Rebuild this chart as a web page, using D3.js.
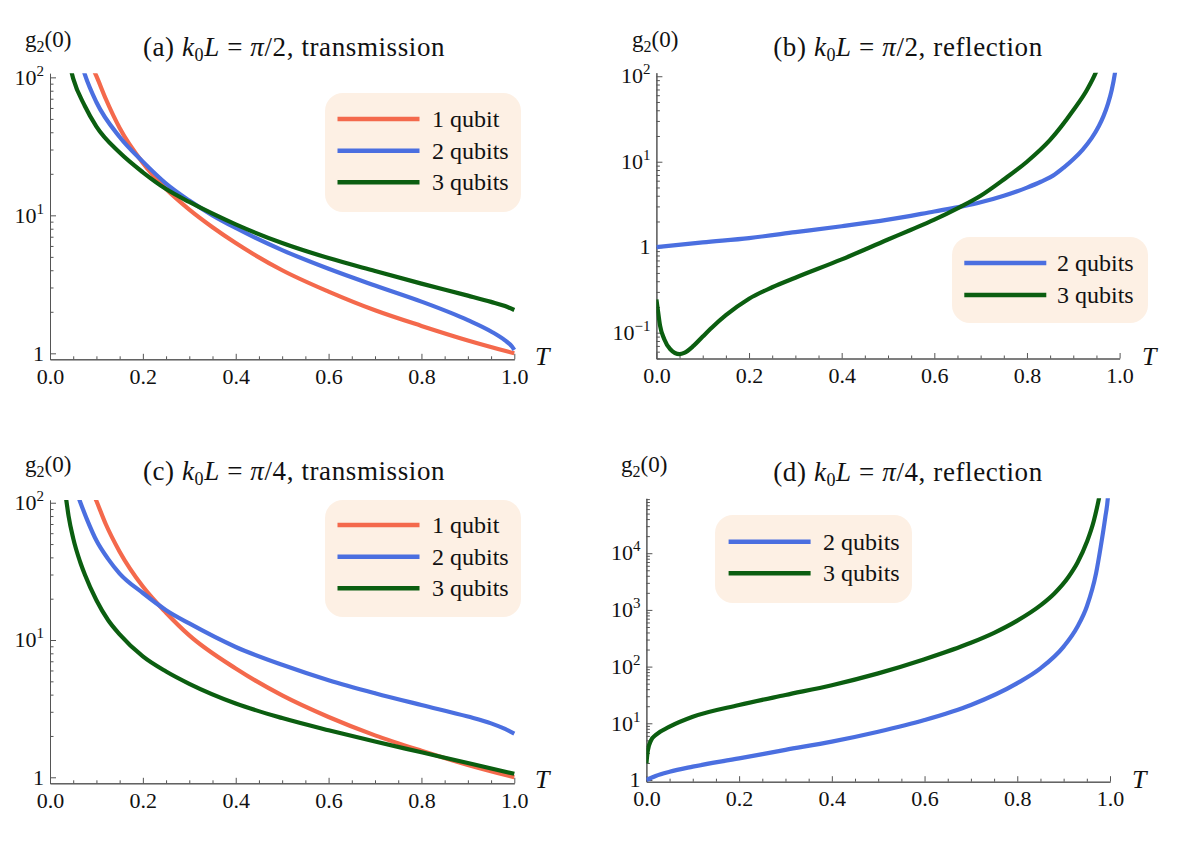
<!DOCTYPE html>
<html><head><meta charset="utf-8">
<script src="https://cdn.jsdelivr.net/npm/d3@7"></script>
<style>
body{margin:0;background:#fff}
svg{display:block}
text{font-family:"Liberation Serif","Times New Roman",serif;fill:#111;white-space:pre}
</style>
</head><body>
<svg id="chart" width="1200" height="847"></svg>
<script>
// ---------- data ----------
const seriesNames = ["1 qubit", "2 qubits", "3 qubits"];
const seriesColors = ["#f4694c", "#4b6fe0", "#0b5e10"];
const xTicks = [0, 0.2, 0.4, 0.6, 0.8, 1.0];
const xMinorTicks = [0.05,0.1,0.15,0.25,0.3,0.35,0.45,0.5,0.55,0.65,0.7,0.75,0.85,0.9,0.95];

// (a) k0L = pi/2, transmission  -- [T, g2(0)]
const a1 = [[0.088,125],[0.1,102],[0.12,70],[0.15,43],[0.2,24],[0.25,15.5],[0.3,11],[0.35,8.2],[0.4,6.3],[0.5,4.0],[0.6,2.8],[0.7,2.05],[0.8,1.58],[0.9,1.24],[1.0,1.0]];
const a2 = [[0.068,125],[0.075,105],[0.1,66],[0.15,37],[0.2,24.5],[0.25,17],[0.3,12.8],[0.35,10],[0.4,8.1],[0.5,5.6],[0.6,4.1],[0.7,3.1],[0.8,2.37],[0.9,1.74],[0.95,1.44],[0.98,1.24],[0.995,1.12],[1.0,1.06]];
const a3 = [[0.042,125],[0.05,98],[0.075,62],[0.1,44],[0.15,28.5],[0.2,20.5],[0.25,15.5],[0.3,12.5],[0.4,8.6],[0.5,6.3],[0.6,4.9],[0.7,3.95],[0.8,3.2],[0.9,2.62],[0.95,2.36],[0.98,2.2],[1.0,2.06]];

// (b) k0L = pi/2, reflection
const b2 = [[0,1.0],[0.1,1.14],[0.2,1.28],[0.3,1.5],[0.4,1.76],[0.5,2.1],[0.6,2.62],[0.66,3.0],[0.7,3.35],[0.75,4.0],[0.8,4.98],[0.83,5.83],[0.86,7.08],[0.88,8.6],[0.9,10.7],[0.92,13.8],[0.94,19],[0.955,26],[0.965,33.9],[0.975,47.9],[0.983,69],[0.99,109],[0.995,172]];
const b3 = [[0,0.245],[0.004,0.17],[0.008,0.12],[0.017,0.084],[0.03,0.064],[0.05,0.056],[0.06,0.058],[0.08,0.07],[0.1,0.09],[0.12,0.115],[0.15,0.16],[0.2,0.25],[0.25,0.34],[0.3,0.44],[0.4,0.72],[0.5,1.23],[0.55,1.6],[0.6,2.1],[0.65,2.85],[0.7,4.0],[0.75,6.2],[0.8,10],[0.85,18],[0.9,40],[0.93,70],[0.95,115],[0.96,160]];

// (c) k0L = pi/4, transmission
const c1 = [[0.088,128],[0.1,103],[0.12,70],[0.15,44],[0.2,24.5],[0.25,15.8],[0.3,10.8],[0.4,6.2],[0.5,3.95],[0.6,2.75],[0.7,2.02],[0.8,1.56],[0.9,1.23],[1.0,1.0]];
const c2 = [[0.055,125],[0.062,108],[0.08,75],[0.1,53],[0.125,39],[0.15,30.5],[0.2,22],[0.25,16.5],[0.3,13.2],[0.4,8.9],[0.5,6.6],[0.6,5.1],[0.7,4.1],[0.8,3.36],[0.9,2.77],[0.95,2.47],[0.98,2.25],[1.0,2.08]];
const c3 = [[0.03,135],[0.035,105],[0.04,80],[0.05,55],[0.065,37],[0.075,30],[0.1,19.5],[0.125,14],[0.15,11],[0.2,7.6],[0.25,5.9],[0.3,4.8],[0.4,3.45],[0.5,2.7],[0.6,2.2],[0.7,1.82],[0.8,1.52],[0.9,1.27],[1.0,1.06]];

// (d) k0L = pi/4, reflection
const d2 = [[0,1.0],[0.02,1.18],[0.05,1.4],[0.1,1.72],[0.2,2.4],[0.3,3.4],[0.4,4.75],[0.5,7.1],[0.6,11.4],[0.7,21],[0.8,51],[0.85,93],[0.9,225],[0.93,510],[0.95,1150],[0.97,4450],[0.98,13000],[0.99,44000],[0.995,88000],[0.998,200000]];
const d3s = [[0,1.97],[0.003,3.3],[0.01,5],[0.02,6.2],[0.05,8.7],[0.1,13],[0.2,21],[0.3,31.6],[0.4,47],[0.5,76],[0.6,135],[0.7,263],[0.75,394],[0.8,646],[0.85,1200],[0.88,1950],[0.91,3760],[0.93,6840],[0.95,15700],[0.965,37000],[0.975,83000],[0.98,132000]];

const yTicksA = [1, 10, 100];
const yTicksB = [0.1, 1, 10, 100];
const yTicksC = [1, 10, 100];
const yTicksD = [1, 10, 100, 1000, 10000];

// ---------- layout ----------
const panels = [
  {tag:"(a)", frac:"2", kind:"transmission", x0:50, x1:514.3, y0:73.3, y1:359.3, yDom:[0.905,107], yTicks:yTicksA,
   series:[[a1,0],[a2,1],[a3,2]], legend:{x:325,y:93,w:196,h:119,lx:337.5,tx:432,ly:[119,150.7,182.3]},
   titleX:294, titleY:56, gX:25, gY:46.7, tX:535, tY:365},
  {tag:"(b)", frac:"2", kind:"reflection", x0:656.4, x1:1119.6, y0:72.7, y1:358.5, yDom:[0.0499,110], yTicks:yTicksB,
   series:[[b2,1],[b3,2]], legend:{x:952,y:237,w:196,h:86,lx:964.3,tx:1057,ly:[263,295]},
   titleX:908, titleY:56, gX:632, gY:46.7, tX:1142, tY:365},
  {tag:"(c)", frac:"4", kind:"transmission", x0:50, x1:514.3, y0:500, y1:783.3, yDom:[0.904,104.7], yTicks:yTicksC,
   series:[[c1,0],[c2,1],[c3,2]], legend:{x:325,y:500,w:196,h:117,lx:337.5,tx:432,ly:[525,556.7,588.3]},
   titleX:294, titleY:480, gX:25, gY:471.7, tX:535, tY:788},
  {tag:"(d)", frac:"4", kind:"reflection", x0:646.4, x1:1110, y0:498.3, y1:781.7, yDom:[0.933,93000], yTicks:yTicksD,
   series:[[d2,1],[d3s,2]], legend:{x:715,y:515,w:197,h:88,lx:728.6,tx:823,ly:[541.7,573.3]},
   titleX:908, titleY:481, gX:621, gY:472, tX:1132, tY:788}
];

const svg = d3.select("#chart");
const axisColor = "#555";
const FS = 22;

function supLabel(sel, v) {
  if (v === 1) { sel.text("1"); return; }
  const e = Math.round(Math.log10(v));
  sel.append("tspan").text("10");
  sel.append("tspan").attr("font-size", 15).attr("dy", -9).text(e < 0 ? "\u2212" + (-e) : String(e));
}

panels.forEach((p, i) => {
  const g = svg.append("g");
  const x = d3.scaleLinear().domain([0, 1]).range([p.x0, p.x1]);
  const y = d3.scaleLog().domain(p.yDom).range([p.y1, p.y0]);

  // clip
  const cid = "clip" + i;
  svg.append("clipPath").attr("id", cid).append("rect")
    .attr("x", p.x0).attr("y", p.y0).attr("width", p.x1 - p.x0 + 3).attr("height", p.y1 - p.y0);

  // y minor ticks
  const [lo, hi] = p.yDom;
  const minors = [];
  for (let e = Math.floor(Math.log10(lo)); e <= Math.ceil(Math.log10(hi)); e++) {
    for (let k = 2; k <= 9; k++) {
      const v = k * Math.pow(10, e);
      if (v >= lo && v <= hi) minors.push(v);
    }
  }
  const yMinor = g.append("g").attr("transform", `translate(${p.x0},0)`)
    .call(d3.axisLeft(y).tickValues(minors).tickSizeInner(-3.5).tickSizeOuter(0).tickFormat(""));
  const yMajor = g.append("g").attr("transform", `translate(${p.x0},0)`)
    .call(d3.axisLeft(y).tickValues(p.yTicks).tickSizeInner(-6).tickSizeOuter(0).tickFormat(""));
  [yMinor, yMajor].forEach(a => { a.selectAll("path,line").attr("stroke", axisColor); });

  // y labels
  p.yTicks.forEach(v => {
    const t = g.append("text").attr("x", p.x0 - 6).attr("y", y(v)).attr("dy", "0.33em")
      .attr("text-anchor", "end").attr("font-size", FS);
    supLabel(t, v);
  });

  // x axis
  const xMinor = g.append("g").attr("transform", `translate(0,${p.y1})`)
    .call(d3.axisBottom(x).tickValues(xMinorTicks).tickSizeInner(-3).tickSizeOuter(0).tickFormat(""));
  const xMajor = g.append("g").attr("transform", `translate(0,${p.y1})`)
    .call(d3.axisBottom(x).tickValues(xTicks).tickSizeInner(-5.5).tickSizeOuter(0).tickPadding(9).tickFormat(d3.format(".1f")));
  [xMinor, xMajor].forEach(a => { a.selectAll("path,line").attr("stroke", axisColor); });
  xMajor.selectAll("text").attr("font-size", FS).attr("fill", "#111");

  // curves
  const line = d3.line().x(d => x(d[0])).y(d => y(d[1])).curve(d3.curveMonotoneX);
  const cg = g.append("g").attr("clip-path", `url(#${cid})`);
  p.series.forEach(([data, si]) => {
    cg.append("path").datum(data).attr("d", line).attr("fill", "none")
      .attr("stroke", seriesColors[si]).attr("stroke-width", 4.2).attr("stroke-linejoin", "round");
  });

  // legend
  const L = p.legend;
  g.append("rect").attr("x", L.x).attr("y", L.y).attr("width", L.w).attr("height", L.h)
    .attr("rx", 18).attr("fill", "#fdf0e4");
  p.series.forEach(([data, si], k) => {
    g.append("line").attr("x1", L.lx).attr("x2", L.lx + 82).attr("y1", L.ly[k]).attr("y2", L.ly[k])
      .attr("stroke", seriesColors[si]).attr("stroke-width", 4.5);
    g.append("text").attr("x", L.tx).attr("y", L.ly[k]).attr("dy", "0.33em").attr("font-size", 24)
      .text(seriesNames[si]);
  });

  // title
  const t = g.append("text").attr("x", p.titleX).attr("y", p.titleY).attr("text-anchor", "middle")
    .attr("font-size", 27).attr("letter-spacing", 0.6);
  t.append("tspan").text(p.tag + " ");
  t.append("tspan").attr("font-style", "italic").text("k");
  t.append("tspan").attr("font-size", 18).attr("dy", 5).text("0");
  t.append("tspan").attr("dy", -5).attr("font-style", "italic").text("L");
  t.append("tspan").text(" = ");
  t.append("tspan").attr("font-style", "italic").text("\u03c0");
  t.append("tspan").text("/" + p.frac + ", " + p.kind);

  // y-axis label g2(0)
  const gl = g.append("text").attr("x", p.gX).attr("y", p.gY).attr("font-size", 23);
  gl.append("tspan").text("g");
  gl.append("tspan").attr("font-size", 16).attr("dy", 5).text("2");
  gl.append("tspan").attr("dy", -5).text("(0)");

  // x-axis label T
  g.append("text").attr("x", p.tX).attr("y", p.tY).attr("font-size", 26).attr("font-style", "italic").text("T");
});
</script>
</body></html>
